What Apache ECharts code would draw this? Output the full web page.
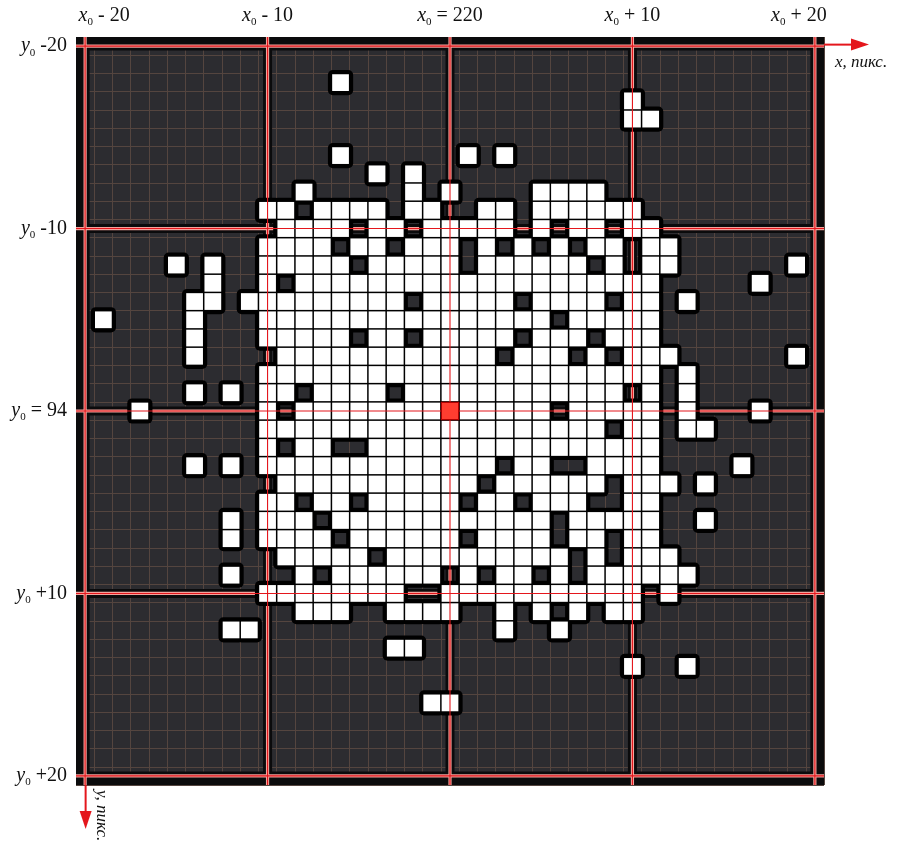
<!DOCTYPE html>
<html><head><meta charset="utf-8">
<script src="https://cdn.jsdelivr.net/npm/echarts@6/dist/echarts.min.js"></script>
<style>html,body{margin:0;padding:0;background:#fff}#c{width:899px;height:857px}</style>
</head><body><div id="c"></div>
<script>
// 41 x 41 pixel neighbourhood: rows y0-20 .. y0+20, columns x0-20 .. x0+20
// '#' = white pixel, '.' = dark pixel; spaces only separate groups of ten columns
const pixelRows = [
  ".......... .......... .......... .......... .",
  ".......... .......... .......... .......... .",
  ".......... ....#..... .......... .......... .",
  ".......... .......... .......... #......... .",
  ".......... .......... .......... ##........ .",
  ".......... .......... .......... .......... .",
  ".......... ....#..... .#.#...... .......... .",
  ".......... ......#.#. .......... .......... .",
  ".......... ..#.....#. #....####. .......... .",
  ".......... ##.####.## ..##.##### #......... .",
  ".......... .####.##.# ####.#.##. ##........ .",
  ".......... ####.##.## #.#.#.#.## .##....... .",
  ".....#.#.. #####.#### #.######.# .##......# .",
  ".......#.. #.######## ########## ##.....#.. .",
  "......##.# ########.# ####.####. ##.#...... .",
  ".#....#... ########## ######.### ##........ .",
  "......#... #####.##.# ####.###.# ##........ .",
  "......#... .######### ###.###.#. ###......# .",
  ".......... ########## ########## ##.#...... .",
  "......#.#. ##.####.## ########## .#.#...... .",
  "...#...... #.######## ######.### ##.#...#.. .",
  ".......... ########## #########. ##.##..... .",
  ".......... #.##..#### ########## ##........ .",
  "......#.#. ########## ###.##..## ##....#... .",
  ".......... .######### ##.######. ###.#..... .",
  ".......... ##.##.#### #.##.###.. ##........ .",
  "........#. ###.###### ######.### ##..#..... .",
  "........#. ####.##### #.####.##. ##........ .",
  ".......... .#####.### #######.#. ###....... .",
  "........#. ..#.###### .#.##.#.## ####...... .",
  ".......... ########.. ########## #.#....... .",
  ".......... ..###..### #..#.#.#.# #......... .",
  "........## .......... ...#..#... .......... .",
  ".......... .......##. .......... .......... .",
  ".......... .......... .......... #..#...... .",
  ".......... .......... .......... .......... .",
  ".......... .........# #......... .......... .",
  ".......... .......... .......... .......... .",
  ".......... .......... .......... .......... .",
  ".......... .......... .......... .......... .",
  ".......... .......... .......... .......... ."
];
const tickOffsets = [-20, -10, 0, 10, 20];
const xTickText = ['- 20', '- 10', '= 220', '+ 10', '+ 20'];
const yTickText = ['-20', '-10', '= 94', '+10', '+20'];
const centerCell = [0, 0];
</script>
<script>
const whiteCells = [];
pixelRows.forEach((rowText, r) => {
  const row = rowText.replace(/ /g, '');
  for (let c = 0; c < row.length; c++) {
    if (row[c] === '#' && !(c - 20 === centerCell[0] && r - 20 === centerCell[1])) whiteCells.push([c - 20, r - 20]);
  }
});
const lineData = tickOffsets.map(v => [v, v]);

function lineItem(color, width) {
  return function (params, api) {
    const v = api.value(0);
    const a = api.coord([v, -20.5]), b = api.coord([v, 20.5]);
    const c = api.coord([-20.5, v]), d = api.coord([20.5, v]);
    return {type: 'group', children: [
      {type: 'line', shape: {x1: a[0], y1: a[1], x2: b[0], y2: b[1]}, style: {stroke: color, lineWidth: width}},
      {type: 'line', shape: {x1: c[0], y1: c[1], x2: d[0], y2: d[1]}, style: {stroke: color, lineWidth: width}}
    ]};
  };
}
function cellItem(grow, fill, radius, stroke, lw) {
  return function (params, api) {
    const p = api.coord([api.value(0), api.value(1)]);
    const s = api.size([1, 1]);
    return {type: 'rect', shape: {x: p[0] - s[0] / 2 - grow, y: p[1] - s[1] / 2 - grow, width: s[0] + 2 * grow, height: s[1] + 2 * grow, r: radius},
      style: {fill: fill, stroke: stroke || null, lineWidth: lw || 0}};
  };
}
const serif = 'Liberation Serif';
const xRich = {
  v: {fontFamily: serif, fontStyle: 'italic', fontSize: 20, lineHeight: 24, color: '#111'},
  s: {fontFamily: serif, fontSize: 11, lineHeight: 12, verticalAlign: 'bottom', color: '#111'},
  t: {fontFamily: serif, fontSize: 20, lineHeight: 24, color: '#111'},
  sp: {width: 38, fontSize: 10},
  sq: {width: 32, fontSize: 10}
};
const chart = echarts.init(document.getElementById('c'));
chart.setOption({
  animation: false,
  backgroundColor: '#ffffff',
  grid: {left: 76, right: 75, top: 37, bottom: 72, show: true, backgroundColor: '#2c2c30', borderWidth: 0},
  xAxis: [
    {type: 'value', min: -20.5, max: 20.5, interval: 1, position: 'bottom', axisLine: {show: false}, axisTick: {show: false}, axisLabel: {show: false},
      splitLine: {show: true, lineStyle: {color: '#54453f', width: 1}}},
    {type: 'value', min: -20.5, max: 20.5, position: 'top', axisLine: {show: false}, axisTick: {show: false}, splitLine: {show: false},
      axisLabel: {show: true, customValues: tickOffsets, margin: 9, rich: xRich,
        formatter: function (v) {
          const i = tickOffsets.indexOf(Math.round(v));
          let s = '{v|x}{s|0}{t| ' + xTickText[i] + '}';
          if (i === 0) s = '{sp| }' + s;
          if (i === tickOffsets.length - 1) s = s + '{sq| }';
          return s;
        }}}
  ],
  yAxis: [
    {type: 'value', inverse: true, min: -20.5, max: 20.5, interval: 1, axisLine: {show: false}, axisTick: {show: false}, axisLabel: {show: false},
      splitLine: {show: true, lineStyle: {color: '#54453f', width: 1}}},
    {type: 'value', inverse: true, min: -20.5, max: 20.5, position: 'left', axisLine: {show: false}, axisTick: {show: false}, splitLine: {show: false},
      axisLabel: {show: true, customValues: tickOffsets, margin: 9, rich: xRich,
        formatter: function (v) {
          const i = tickOffsets.indexOf(Math.round(v));
          return '{v|y}{s|0}{t| ' + yTickText[i] + '}';
        }}}
  ],
  series: [
    {type: 'custom', name: 'halo', data: lineData, renderItem: lineItem('#0b0b0c', 9), silent: true},
    {type: 'custom', name: 'frame', data: [[0, 0]], silent: true, renderItem: function (params, api) {
      const a = api.coord([-20.5, -20.5]), b = api.coord([20.5, 20.5]);
      return {type: 'rect', shape: {x: a[0] + 3, y: a[1] + 3, width: b[0] - a[0] - 6, height: b[1] - a[1] - 6}, style: {fill: 'none', stroke: '#0b0b0c', lineWidth: 6}};
    }},
    {type: 'custom', name: 'pink', data: lineData, renderItem: lineItem('#f3a39c', 3.2), silent: true},
    {type: 'custom', name: 'outline', data: whiteCells, renderItem: cellItem(3.5, '#000000', 5), silent: true},
    {type: 'custom', name: 'pixels', data: whiteCells, renderItem: cellItem(-0.75, '#ffffff', 0), silent: true},
    {type: 'custom', name: 'redlines', data: lineData, renderItem: lineItem('#e4161c', 1.1), silent: true},
    {type: 'custom', name: 'center', data: [centerCell], renderItem: cellItem(-0.5, '#ff3d30', 0, '#b00000', 1.2), silent: true}
  ]
});
const pTop = chart.convertToPixel({xAxisIndex: 0, yAxisIndex: 0}, [20.5, -20]);
const pBot = chart.convertToPixel({xAxisIndex: 0, yAxisIndex: 0}, [-20, 20.5]);
const ax = pTop[0], ay = pTop[1] - 1.5;
const bx = pBot[0] + 0.5, by = pBot[1];
chart.setOption({
  graphic: [
    {type: 'line', shape: {x1: ax, y1: ay, x2: ax + 32, y2: ay}, style: {stroke: '#e4161c', lineWidth: 2}},
    {type: 'polygon', shape: {points: [[ax + 27, ay - 6], [ax + 45, ay], [ax + 27, ay + 6]]}, style: {fill: '#e4161c'}},
    {type: 'text', x: ax + 11, y: ay + 9, style: {text: 'x, пикс.', font: 'italic 17px "Liberation Serif"', fill: '#111', textVerticalAlign: 'top'}},
    {type: 'line', shape: {x1: bx, y1: by, x2: bx, y2: by + 30}, style: {stroke: '#e4161c', lineWidth: 2}},
    {type: 'polygon', shape: {points: [[bx - 6, by + 26], [bx, by + 44], [bx + 6, by + 26]]}, style: {fill: '#e4161c'}},
    {type: 'text', x: bx + 16, y: by + 5, rotation: -Math.PI / 2, style: {text: 'y, пикс.', font: 'italic 17px "Liberation Serif"', fill: '#111', textVerticalAlign: 'middle', textAlign: 'left'}}
  ]
});
</script>
</body></html>
